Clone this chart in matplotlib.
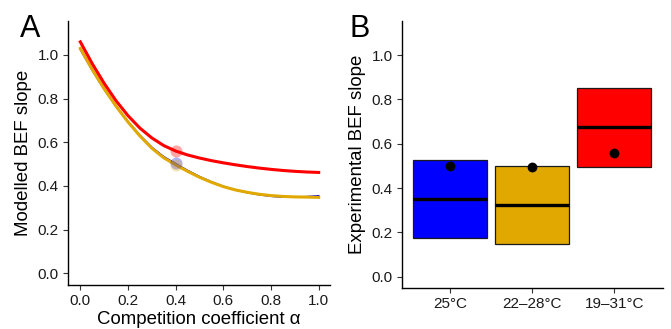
import matplotlib
matplotlib.use("Agg")
import matplotlib.pyplot as plt
import numpy as np

plt.rcParams['font.family'] = ['Liberation Sans', 'DejaVu Sans']

# Panel A data
alpha = [0.0, 0.05, 0.1, 0.15, 0.2, 0.25, 0.3, 0.35, 0.4, 0.45, 0.5,
         0.55, 0.6, 0.65, 0.7, 0.75, 0.8, 0.85, 0.9, 0.95, 1.0]
slope_blue = [1.025, 0.93, 0.843, 0.765, 0.695, 0.632, 0.577, 0.534, 0.502, 0.471, 0.443,
              0.419, 0.398, 0.382, 0.370, 0.360, 0.353, 0.349, 0.349, 0.351, 0.355]
slope_gold = [1.03, 0.933, 0.845, 0.765, 0.693, 0.629, 0.573, 0.529, 0.497, 0.467, 0.44,
              0.417, 0.397, 0.382, 0.371, 0.362, 0.356, 0.352, 0.35, 0.349, 0.348]
slope_red = [1.06, 0.96, 0.87, 0.79, 0.722, 0.665, 0.62, 0.585, 0.56, 0.542, 0.528,
             0.516, 0.506, 0.497, 0.489, 0.482, 0.476, 0.471, 0.467, 0.464, 0.462]
point_alpha = 0.4
point_blue = 0.505
point_gold = 0.495
point_red = 0.558

# Panel B data
categories = ["25\u00b0C", "22\u201328\u00b0C", "19\u201331\u00b0C"]
box_low = [0.173, 0.146, 0.496]
box_high = [0.526, 0.50, 0.85]
box_mid = [0.35, 0.323, 0.674]
obs_points = [0.50, 0.493, 0.559]

c_blue = "#0000FF"
c_gold = "#E0A800"
c_red = "#FF0000"
colors = [c_blue, c_gold, c_red]

fig = plt.figure(figsize=(6.71, 3.29), dpi=100)

axA = fig.add_axes([68/671, 44/329, 262/671, 264/329])
axA.plot(alpha, slope_blue, color=c_blue, lw=1.2, zorder=2)
axA.plot(alpha, slope_gold, color=c_gold, lw=2.2, zorder=3)
axA.plot(alpha, slope_red, color=c_red, lw=2.2, zorder=3)
axA.scatter([point_alpha], [point_blue], s=75, color=c_blue, alpha=0.3, lw=0, zorder=4)
axA.scatter([point_alpha], [point_gold], s=75, color=c_gold, alpha=0.3, lw=0, zorder=4)
axA.scatter([point_alpha], [point_red], s=75, color=c_red, alpha=0.35, lw=0, zorder=4)
axA.set_xlim(-0.0517, 1.0475)
axA.set_ylim(-0.0535, 1.1555)
axA.set_xticks([0, 0.2, 0.4, 0.6, 0.8, 1.0])
axA.set_yticks([0, 0.2, 0.4, 0.6, 0.8, 1.0])
axA.xaxis.set_major_formatter(matplotlib.ticker.FormatStrFormatter('%.1f'))
axA.yaxis.set_major_formatter(matplotlib.ticker.FormatStrFormatter('%.1f'))
axA.set_xlabel("Competition coefficient \u03b1", fontsize=13.4, labelpad=2)
axA.set_ylabel("Modelled BEF slope", fontsize=13.4, labelpad=4)

axB = fig.add_axes([401.7/671, 41/329, 261.3/671, 267.3/329])
xpos = np.arange(1, len(categories) + 1)
width = 0.9
for i, x in enumerate(xpos):
    axB.bar(x, box_high[i] - box_low[i], bottom=box_low[i], width=width,
            color=colors[i], edgecolor="#1a1a1a", lw=0.9, zorder=2)
    axB.plot([x - width/2, x + width/2], [box_mid[i], box_mid[i]], color="black", lw=2.4,
             solid_capstyle="butt", zorder=3)
axB.scatter(xpos, obs_points, s=50, color="black", zorder=4, lw=0)
axB.set_xlim(0.412, 3.59)
axB.set_ylim(-0.051, 1.155)
axB.set_xticks(xpos)
axB.set_xticklabels(categories)
axB.set_yticks([0, 0.2, 0.4, 0.6, 0.8, 1.0])
axB.yaxis.set_major_formatter(matplotlib.ticker.FormatStrFormatter('%.1f'))
axB.set_ylabel("Experimental BEF slope", fontsize=13.4, labelpad=4)

for ax in (axA, axB):
    ax.spines['top'].set_visible(False)
    ax.spines['right'].set_visible(False)
    ax.spines['left'].set_linewidth(1.0)
    ax.spines['bottom'].set_linewidth(1.0)
    ax.tick_params(axis='both', labelsize=11, length=3.5, width=0.8, color="#333333",
                   labelcolor="#1a1a1a", pad=3)

fig.text(20/671, 1 - 37/329, "A", fontsize=22, ha="left", va="baseline")
fig.text(349/671, 1 - 37/329, "B", fontsize=22, ha="left", va="baseline")

fig.savefig("out.png", dpi=100)
